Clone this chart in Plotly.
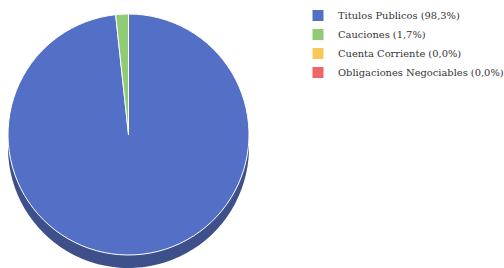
import plotly.graph_objects as go

categories = ["Titulos Publicos", "Cauciones", "Cuenta Corriente", "Obligaciones Negociables"]
values = [98.3, 1.7, 0.0, 0.0]
colors = ["#5470C6", "#91CC75", "#FAC858", "#EE6666"]
side_colors = ["#3E508A", "#678F54", "#B08E3E", "#A84848"]

labels = [f"{c} ({str(v).replace('.', ',')}%)" for c, v in zip(categories, values)]

W, H = 504, 268
fig = go.Figure()
# side (depth) of the 3D pie
fig.add_trace(go.Pie(
    labels=labels, values=values, sort=False, direction="clockwise",
    marker=dict(colors=side_colors, line=dict(width=0)),
    textinfo="none", hoverinfo="skip", showlegend=False,
    domain=dict(x=[8 / W, 249 / W], y=[0, (268 - 27) / H]),
))
# top face
fig.add_trace(go.Pie(
    labels=labels, values=values, sort=False, direction="clockwise",
    marker=dict(colors=colors, line=dict(color="white", width=1)),
    textinfo="none",
    domain=dict(x=[8 / W, 249 / W], y=[(268 - 255) / H, (268 - 14) / H]),
))
fig.update_layout(
    width=W, height=H, margin=dict(l=0, r=0, t=0, b=0, autoexpand=False),
    paper_bgcolor="white", plot_bgcolor="white",
    legend=dict(x=298 / W, y=1 - 1 / H, xanchor="left", yanchor="top",
                font=dict(family="DejaVu Serif", size=9.9, color="#333333"),
                tracegroupgap=0),
)
fig.write_html("out.html", config={"displayModeBar": False},
               post_script="document.body.style.margin='0';")
